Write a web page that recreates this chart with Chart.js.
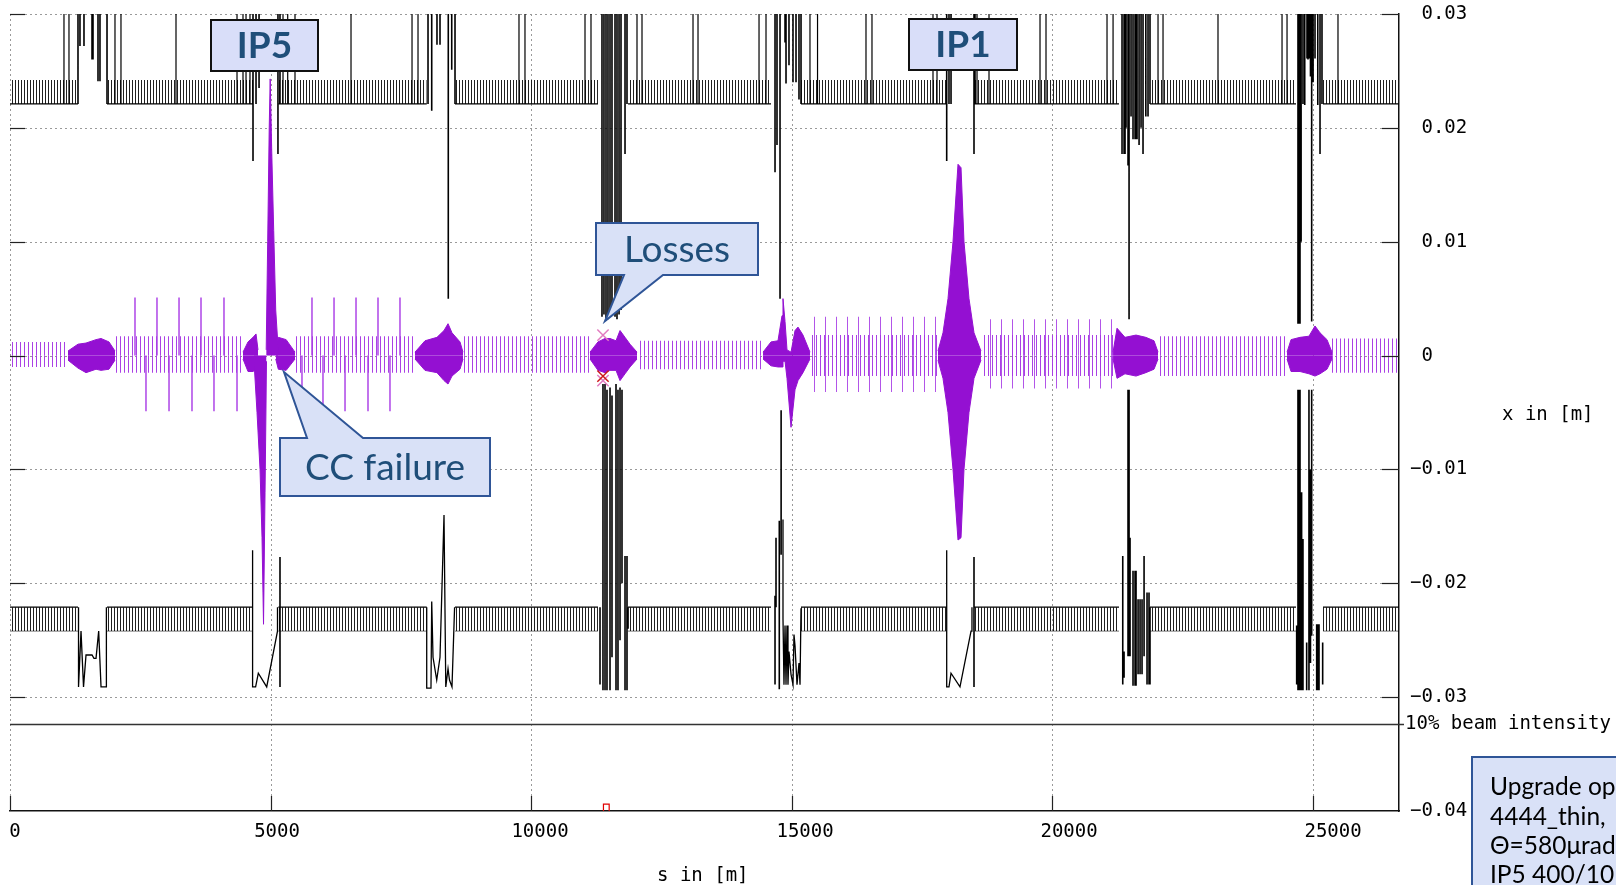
<!DOCTYPE html>
<html>
<head>
<meta charset="utf-8">
<script src="https://cdn.jsdelivr.net/npm/chart.js@4.4.1/dist/chart.umd.min.js"></script>
<style>
html,body{margin:0;padding:0;background:#fff;overflow:hidden}
#wrap{position:relative;width:1616px;height:885px}
canvas{display:block}
</style>
</head>
<body>
<div id="wrap"><canvas id="c" width="1616" height="885"></canvas></div>
<script>
// ---------------- axes ----------------
const xTickValues = [0, 5000, 10000, 15000, 20000, 25000];
const yTickValues = [0.03, 0.02, 0.01, 0, -0.01, -0.02, -0.03, -0.04];
const sMax = 26659;
const yMin = -0.04, yMax = 0.03;
const beamIntensityLevel = -0.0324;

// ---------------- aperture (black) ----------------
const arcStart = [0, 1862, 5150, 8541, 11862, 15182, 18502, 21880, 25200];
const arcEnd   = [1305, 4664, 7998, 11285, 14606, 17978, 21285, 24682, 26659];
const screenInner = 0.0221;
const screenOuter = 0.0242;

const tallApertureS = [1036, 1132, 2015, 2130, 3186, 4357, 4472, 4530, 4606, 5240, 5330, 5470, 6545, 7716, 7831,
  9769, 9884, 11036, 11151, 12034, 12130, 13109, 13205, 14376, 14510, 15354, 15499, 16429, 16544, 17715, 17792,
  18560, 18790, 19769, 19884, 21055, 21171, 22034, 22130, 23185, 24414, 24510, 25488];
const tallApertureTop = 0.031;

const irTopSegments = [
  [1305,0.0221,0.031],[1343,0.0272,0.031],[1420,0.0272,0.031],[1574,0.026,0.031],[1593,0.026,0.031],[1689,0.0241,0.031],[1727,0.0241,0.031],[1862,0.0221,0.031],
  [4664,0.0171,0.031],[4722,0.0221,0.031],[4780,0.0235,0.031],[5143,0.0177,0.031],[5182,0.0221,0.031],
  [8023,0.0221,0.031],[8094,0.0215,0.031],[8195,0.0273,0.031],[8253,0.0273,0.031],[8412,0.005,0.031],[8478,0.0251,0.031],[8541,0.0221,0.031],
  [11362,0.0034,0.031],[11400,0.0036,0.031],[11439,0.0033,0.031],[11477,0.0032,0.031],[11516,0.0035,0.031],[11554,0.0038,0.031],[11612,0.0034,0.031],[11650,0.0032,0.031],[11689,0.0036,0.031],[11727,0.0040,0.031],[11804,0.0177,0.031],[11842,0.0221,0.031],
  [14683,0.0161,0.031],[14721,0.0185,0.031],[14779,0.005,0.031],[14875,0.0275,0.031],[14894,0.0239,0.031],[14951,0.0255,0.031],[15028,0.024,0.031],[15086,0.024,0.031],[15143,0.0225,0.031],[15182,0.0221,0.031],
  [17978,0.0171,0.031],[18022,0.0221,0.031],[18061,0.0221,0.031],[18502,0.0177,0.031],[18521,0.0221,0.031],
  [21343,0.0177,0.031],[21382,0.0177,0.031],[21401,0.0177,0.031],[21420,0.0200,0.031],[21458,0.0167,0.031],[21478,0.0032,0.031],[21516,0.0210,0.031],[21554,0.019,0.031],[21593,0.019,0.031],[21612,0.019,0.031],[21631,0.019,0.031],[21670,0.0185,0.031],[21708,0.0200,0.031],[21746,0.0177,0.031],[21800,0.0210,0.031],[21842,0.021,0.031],[21880,0.0221,0.031],
  [24720,0.0028,0.031],[24740,0.0028,0.031],[24759,0.0028,0.031],[24780,0.0100,0.031],[24816,0.0221,0.031],[24850,0.0220,0.031],[24893,0.0261,0.031],[24912,0.0260,0.031],[24931,0.0261,0.031],[24960,0.0245,0.031],[24983,0.003,0.031],[25010,0.0240,0.031],[25047,0.0261,0.031],[25100,0.0220,0.031],[25143,0.0177,0.031],[25181,0.0221,0.031]
];
const irBottomSegments = [
  [5182,-0.0291,-0.0177],
  [11324,-0.0289,-0.0221],[11381,-0.0294,-0.0025],[11420,-0.0294,-0.0025],[11458,-0.0294,-0.0030],[11516,-0.0294,-0.0028],[11554,-0.0265,-0.0035],[11631,-0.0294,-0.0025],[11669,-0.0294,-0.0030],[11708,-0.0250,-0.0028],[11746,-0.0200,-0.0030],[11804,-0.0294,-0.0176],[11842,-0.0294,-0.0176],[11862,-0.0240,-0.0221],
  [14683,-0.0289,-0.0211],[14702,-0.0221,-0.016],[14765,-0.0293,-0.0145],[14800,-0.0175,-0.0048],
  [18502,-0.0291,-0.0177],
  [21357,-0.0289,-0.0176],[21382,-0.0283,-0.026],[21458,-0.0264,-0.003],[21478,-0.0264,-0.003],[21497,-0.0264,-0.016],[21554,-0.029,-0.0189],[21593,-0.029,-0.0189],[21612,-0.029,-0.0189],[21651,-0.028,-0.0214],[21689,-0.028,-0.0214],[21727,-0.028,-0.0214],[21766,-0.0264,-0.0176],[21823,-0.0289,-0.0208],[21861,-0.0289,-0.0208],[21880,-0.0289,-0.0221],
  [24695,-0.0289,-0.0237],[24720,-0.0294,-0.003],[24740,-0.0294,-0.003],[24759,-0.0294,-0.003],[24790,-0.0294,-0.0120],[24816,-0.0294,-0.0161],[24887,-0.0294,-0.0252],[24931,-0.0294,-0.003],[24960,-0.0270,-0.0100],[24983,-0.0246,-0.003],[25079,-0.0294,-0.0236],[25100,-0.0294,-0.0236],[25124,-0.0294,-0.0236],[25194,-0.0289,-0.0252]
];
const ir4BottomProfile = [[1315,-0.0221],[1315,-0.0291],[1363,-0.0242],[1411,-0.0291],[1459,-0.0263],[1574,-0.0263],[1612,-0.0266],[1651,-0.0266],[1702,-0.0242],[1747,-0.0291],[1850,-0.0291],[1850,-0.0221]];
const ir5BottomProfile = [[4656,-0.0171],[4656,-0.0291],[4714,-0.0291],[4766,-0.0279],[4927,-0.0291],[5134,-0.0242],[5134,-0.0221]];
const ir6BottomProfile = [[7998,-0.0221],[7998,-0.0292],[8080,-0.0292],[8094,-0.0216],[8119,-0.0265],[8190,-0.0285],[8253,-0.0265],[8330,-0.0140],[8364,-0.0291],[8407,-0.0275],[8435,-0.0285],[8483,-0.0291],[8533,-0.0221]];
const ir8BottomProfile = [[14836,-0.0144],[14836,-0.0231],[14855,-0.0289],[14875,-0.0237],[14894,-0.0289],[14913,-0.0237],[14932,-0.0289],[14951,-0.026],[14990,-0.028],[15028,-0.0289],[15047,-0.0245],[15067,-0.0255],[15105,-0.0289],[15143,-0.027],[15163,-0.0289],[15182,-0.0222]];
const ir1BottomProfile = [[17978,-0.0171],[17978,-0.0291],[18022,-0.0291],[18061,-0.0279],[18233,-0.0291],[18445,-0.0242],[18463,-0.0221]];

// ---------------- tracking (purple) ----------------
const tickStart = [0, 2015, 5470, 8694, 12034, 15354, 18675, 22034, 25373];
const tickEnd   = [1113, 4472, 7773, 11132, 14453, 17811, 21171, 24510, 26659];
const tickUp    = [0.0012, 0.0017, 0.0017, 0.0017, 0.0013, 0.0018, 0.0018, 0.0017, 0.0015];
const tickDown  = [-0.0010, -0.0015, -0.0015, -0.0015, -0.0012, -0.0018, -0.0018, -0.0018, -0.0015];
const wideTickStart = [15354, 18675];
const wideTickEnd   = [17811, 21171];
const wideTickUp    = [0.0034, 0.0032];
const wideTickDown  = [-0.0032, -0.0029];

const spikeUpS   = [2399, 2821, 3244, 3666, 4107, 5796, 6219, 6641, 7063, 7485];
const spikeUpY   = [0.0051, 0.0051, 0.0051, 0.0051, 0.0051, 0.0051, 0.0051, 0.0051, 0.0051, 0.0051];
const spikeDownS = [2610, 3052, 3493, 3915, 4357, 5604, 6007, 6430, 6871, 7293];
const spikeDownY = [-0.0049, -0.0049, -0.0049, -0.0049, -0.0049, -0.0049, -0.0049, -0.0049, -0.0049, -0.0049];

const ir4BlobS = [1113,1305,1459,1651,1747,1900,2015];
const ir4BlobUp = [0.0004,0.0010,0.0011,0.0014,0.0015,0.0012,0.0004];
const ir4BlobDown = [-0.0004,-0.0011,-0.0015,-0.0012,-0.0013,-0.0012,-0.0004];
const ip5LeftBlobS = [4472,4568,4664,4722,4760];
const ip5LeftBlobUp = [0.0003,0.0012,0.0016,0.0019,0.0005];
const ip5LeftBlobDown = [-0.0003,-0.0014,-0.0014,-0.0012,-0.0005];
const ip5SpikeUpS = [4917,4946,4975,4994,5023,5061,5100,5148];
const ip5SpikeUpY = [0.0005,0.010,0.020,0.0243,0.018,0.011,0.004,0.0005];
const ip5SpikeDownS = [4683,4741,4799,4837,4866,4895,4923];
const ip5SpikeDownY = [-0.0005,-0.005,-0.010,-0.016,-0.0236,-0.012,-0.0005];
const ip5RightBlobS = [5100,5150,5300,5470];
const ip5RightBlobUp = [0.0003,0.0016,0.0014,0.0003];
const ip5RightBlobDown = [-0.0003,-0.0012,-0.0013,-0.0003];
const ir6BlobS = [7773,7965,8195,8330,8407,8483,8637,8694];
const ir6BlobUp = [0.0003,0.0013,0.0016,0.0022,0.0028,0.0020,0.0012,0.0003];
const ir6BlobDown = [-0.0003,-0.0013,-0.0015,-0.0022,-0.0025,-0.0018,-0.0012,-0.0003];
const ir7BlobS = [11132,11285,11420,11516,11631,11708,11804,11900,12034];
const ir7BlobUp = [0.0003,0.0012,0.0015,0.0015,0.0013,0.0022,0.0016,0.0010,0.0003];
const ir7BlobDown = [-0.0003,-0.0013,-0.0015,-0.0013,-0.0013,-0.0022,-0.0016,-0.0010,-0.0003];
const ir8BlobS = [14453,14606,14740,14817,14836,14875,14913,14990,15067,15124,15220,15354];
const ir8BlobUp = [0.0003,0.0012,0.0013,0.0035,0.0050,0.0030,0.0005,0.0003,0.0022,0.0025,0.0018,0.0003];
const ir8BlobDown = [-0.0003,-0.0009,-0.0010,-0.0010,-0.0005,-0.0005,-0.0020,-0.0063,-0.0030,-0.0022,-0.0015,-0.0003];
const ir1SpindleS = [17811,17907,18003,18099,18195,18253,18310,18406,18502,18636];
const ir1SpindleUp = [0.0004,0.002,0.005,0.010,0.0168,0.0165,0.010,0.005,0.002,0.0004];
const ir1SpindleDown = [-0.0004,-0.002,-0.005,-0.010,-0.0162,-0.016,-0.010,-0.005,-0.002,-0.0004];
const ir2BlobS = [21171,21247,21400,21612,21800,21957,22034];
const ir2BlobUp = [0.0003,0.0024,0.0016,0.0018,0.0016,0.0013,0.0003];
const ir2BlobDown = [-0.0003,-0.002,-0.0016,-0.0018,-0.0015,-0.0012,-0.0003];
const ir3BlobS = [24510,24587,24759,24931,25047,25143,25277,25373];
const ir3BlobUp = [0.0003,0.0014,0.0016,0.0017,0.0026,0.0020,0.0014,0.0003];
const ir3BlobDown = [-0.0003,-0.0014,-0.0014,-0.0016,-0.0018,-0.0016,-0.0012,-0.0003];

// ---------------- losses ----------------
const lossMarkS = [11381, 11381, 11381];
const lossMarkY = [0.0018, -0.0022, -0.0018];
const lossBinStart = [11390];
const lossBinEnd = [11500];
const lossBinHeight = [0.0006];

// ---------------- texts ----------------
const yAxisTitle = 'x in [m]';
const xAxisTitle = 's in [m]';
const intensityLabel = '10% beam intensity';
const infoLines = ['Upgrade optics', '4444_thin,', 'Θ=580μrad', 'IP5 400/10'];

// ================= styles / layout (not data) =================
const MONO = '"DejaVu Sans Mono", monospace';
const MONO_SIZE = 19;
const SANS = 'Lato, "Open Sans", sans-serif';
const PURPLE = '#9410d2';
const PURPLE_LIGHT = 'rgba(170,60,230,0.95)';
const LAYOUT = {
  ip5:   {x: 211, y: 20, w: 107, h: 51, cx: 264.5, cy: 46},
  ip1:   {x: 909, y: 19, w: 108, h: 51, cx: 963, cy: 45},
  losses:{x: 596, y: 223, w: 162, h: 52, side: 'bottom', base: [624, 663], tip: [605, 321], cx: 677, cy: 250},
  cc:    {x: 280, y: 438, w: 210, h: 58, side: 'top', base: [307, 363], tip: [284, 372], cx: 385, cy: 468},
  info:  {x: 1472, y: 757, w: 220, h: 200, tx: 1490, ty: [787, 817, 846, 875]},
  xLabelShift: [5, 6.5, 9, 13.5, 17, 20.5],
  xLabelY: 832
};

const ctx0 = document.getElementById('c').getContext('2d');
function stripePattern(period, color, width) {
  const c = document.createElement('canvas');
  c.width = period; c.height = 4;
  const g = c.getContext('2d');
  g.fillStyle = color; g.fillRect(0, 0, width, 4);
  return ctx0.createPattern(c, 'repeat');
}
const combPattern = stripePattern(3, 'rgba(20,20,20,0.95)', 1);
const tickPattern = stripePattern(4, 'rgba(165,55,228,0.95)', 1);
const widePattern = stripePattern(11, 'rgba(165,55,228,0.85)', 1);

// ---------- builders ----------
function bandPts(starts, ends, levels) {
  const p = [];
  starts.forEach((s, i) => { p.push({x: s, y: levels[i]}, {x: ends[i], y: levels[i]}, {x: ends[i], y: null}); });
  return p;
}
function segPts(segs) {
  const sorted = segs.slice().sort((a, b) => a[0] - b[0]);
  const p = [];
  sorted.forEach(([s, a, b]) => { p.push({x: s, y: a}, {x: s, y: b}, {x: s, y: null}); });
  return p;
}
function polyPts(lines) {
  const p = [];
  lines.forEach(l => { l.forEach(([s, y]) => p.push({x: s, y})); p.push({x: l[l.length - 1][0], y: null}); });
  return p;
}
function xy(S, Y) { return S.map((s, i) => ({x: s, y: Y[i]})); }
function lineDS(data, color, width, extra) {
  return Object.assign({type: 'line', data, borderColor: color, borderWidth: width, pointRadius: 0,
    fill: false, spanGaps: false, tension: 0}, extra || {});
}
function fillDS(data, bg, target) {
  return lineDS(data, 'rgba(0,0,0,0)', 0, {fill: {value: target}, backgroundColor: bg});
}

const layers = []; // bottom -> top
layers.push(fillDS(bandPts(arcStart, arcEnd, arcStart.map(() => screenOuter)), combPattern, screenInner));
layers.push(fillDS(bandPts(arcStart, arcEnd, arcStart.map(() => -screenOuter)), combPattern, -screenInner));
layers.push(lineDS(bandPts(arcStart, arcEnd, arcStart.map(() => screenInner)), '#000', 1.3));
layers.push(lineDS(bandPts(arcStart, arcEnd, arcStart.map(() => -screenInner)), '#000', 1.3));
layers.push(lineDS(bandPts(arcStart, arcEnd, arcStart.map(() => -screenOuter)), 'rgba(0,0,0,0.55)', 1));
layers.push(lineDS(segPts(tallApertureS.map(s => [s, screenInner, tallApertureTop])), '#000', 1.2));
layers.push(lineDS(segPts(irTopSegments), '#000', 1.6));
layers.push(lineDS(segPts(irBottomSegments), '#000', 1.6));
layers.push(lineDS(polyPts([ir4BottomProfile, ir5BottomProfile, ir6BottomProfile, ir8BottomProfile, ir1BottomProfile]), '#000', 1.3));
layers.push(fillDS(bandPts(wideTickStart, wideTickEnd, wideTickUp), widePattern, 0));
layers.push(fillDS(bandPts(wideTickStart, wideTickEnd, wideTickDown), widePattern, 0));
layers.push(fillDS(bandPts(tickStart, tickEnd, tickUp), tickPattern, 0));
layers.push(fillDS(bandPts(tickStart, tickEnd, tickDown), tickPattern, 0));
layers.push(lineDS(segPts(spikeUpS.map((s, i) => [s, 0, spikeUpY[i]])), PURPLE_LIGHT, 1.5));
layers.push(lineDS(segPts(spikeDownS.map((s, i) => [s, spikeDownY[i], 0])), PURPLE_LIGHT, 1.5));
[[ir4BlobS, ir4BlobUp, ir4BlobDown], [ip5LeftBlobS, ip5LeftBlobUp, ip5LeftBlobDown], [ip5RightBlobS, ip5RightBlobUp, ip5RightBlobDown],
 [ir6BlobS, ir6BlobUp, ir6BlobDown], [ir7BlobS, ir7BlobUp, ir7BlobDown], [ir8BlobS, ir8BlobUp, ir8BlobDown],
 [ir1SpindleS, ir1SpindleUp, ir1SpindleDown], [ir2BlobS, ir2BlobUp, ir2BlobDown], [ir3BlobS, ir3BlobUp, ir3BlobDown]]
 .forEach(([S, U, D]) => {
   layers.push(lineDS(xy(S, U), PURPLE, 1, {fill: {value: 0}, backgroundColor: PURPLE}));
   layers.push(lineDS(xy(S, D), PURPLE, 1, {fill: {value: 0}, backgroundColor: PURPLE}));
 });
layers.push(lineDS(xy(ip5SpikeUpS, ip5SpikeUpY), PURPLE, 1, {fill: {value: 0}, backgroundColor: PURPLE}));
layers.push(lineDS(xy(ip5SpikeDownS, ip5SpikeDownY), PURPLE, 1, {fill: {value: 0}, backgroundColor: PURPLE}));
layers.push(lineDS(polyPts(lossBinStart.map((s, i) => [[s, yMin], [s, yMin + lossBinHeight[i]], [lossBinEnd[i], yMin + lossBinHeight[i]], [lossBinEnd[i], yMin]])), '#e00000', 1.2));
layers.push({type: 'scatter', data: xy(lossMarkS, lossMarkY), showLine: false, pointStyle: 'crossRot', pointRadius: 8,
  pointBorderWidth: 1.5, pointBorderColor: ['#e27cc0', '#e27cc0', '#cc1a1a'], pointBackgroundColor: 'rgba(0,0,0,0)'});
layers.forEach((d, i) => { d.order = layers.length - i; });

function callout(ctx, c, fill, stroke, lw) {
  ctx.beginPath();
  ctx.moveTo(c.x, c.y);
  if (c.side === 'top') { ctx.lineTo(c.base[0], c.y); ctx.lineTo(c.tip[0], c.tip[1]); ctx.lineTo(c.base[1], c.y); }
  ctx.lineTo(c.x + c.w, c.y);
  ctx.lineTo(c.x + c.w, c.y + c.h);
  if (c.side === 'bottom') { ctx.lineTo(c.base[1], c.y + c.h); ctx.lineTo(c.tip[0], c.tip[1]); ctx.lineTo(c.base[0], c.y + c.h); }
  ctx.lineTo(c.x, c.y + c.h);
  ctx.closePath();
  ctx.fillStyle = fill; ctx.fill();
  ctx.lineWidth = lw; ctx.strokeStyle = stroke; ctx.stroke();
}
const framePlugin = {
  id: 'frame',
  beforeDatasetsDraw(chart) {
    const {ctx, chartArea: a, scales: {x, y}} = chart;
    ctx.save();
    ctx.strokeStyle = '#9a9a9a'; ctx.lineWidth = 1; ctx.setLineDash([2, 3]);
    yTickValues.forEach(v => {
      if (v <= yMin) return;
      const py = Math.round(y.getPixelForValue(v)) + 0.5;
      ctx.beginPath(); ctx.moveTo(a.left, py); ctx.lineTo(a.right, py); ctx.stroke();
    });
    xTickValues.forEach(v => {
      const px = Math.round(x.getPixelForValue(v)) + 0.5;
      ctx.beginPath(); ctx.moveTo(px, a.top); ctx.lineTo(px, a.bottom); ctx.stroke();
    });
    ctx.restore();
  },
  afterDatasetsDraw(chart) {
    const {ctx, chartArea: a, scales: {x, y}} = chart;
    ctx.save();
    ctx.strokeStyle = '#222'; ctx.lineWidth = 1.2;
    yTickValues.forEach(v => {
      if (v <= yMin) return;
      const py = Math.round(y.getPixelForValue(v)) + 0.5;
      ctx.beginPath(); ctx.moveTo(a.left, py); ctx.lineTo(a.left + 15, py); ctx.stroke();
      ctx.beginPath(); ctx.moveTo(a.right - 17, py); ctx.lineTo(a.right, py); ctx.stroke();
    });
    xTickValues.forEach(v => {
      const px = Math.round(x.getPixelForValue(v)) + 0.5;
      ctx.beginPath(); ctx.moveTo(px, a.bottom); ctx.lineTo(px, a.bottom - 15); ctx.stroke();
    });
    const py = Math.round(y.getPixelForValue(beamIntensityLevel)) + 0.5;
    ctx.strokeStyle = '#333'; ctx.lineWidth = 1.5;
    ctx.beginPath(); ctx.moveTo(a.left, py); ctx.lineTo(a.right + 5, py); ctx.stroke();
    ctx.fillStyle = '#000'; ctx.font = MONO_SIZE + 'px ' + MONO; ctx.textBaseline = 'middle'; ctx.textAlign = 'left';
    ctx.fillText(intensityLabel, a.right + 6, py);
    ctx.fillText(yAxisTitle, 1502, 415);
    ctx.fillText(xAxisTitle, 657, 876);
    ctx.textAlign = 'center';
    xTickValues.forEach((v, i) => {
      ctx.fillText(String(v), x.getPixelForValue(v) + LAYOUT.xLabelShift[i], LAYOUT.xLabelY);
    });
    ctx.restore();
  },
  afterDraw(chart) {
    const ctx = chart.ctx;
    ctx.save();
    [['IP5', LAYOUT.ip5], ['IP1', LAYOUT.ip1]].forEach(([t, b]) => {
      callout(ctx, b, '#d9def9', '#111', 2);
      ctx.fillStyle = '#1f4e79'; ctx.font = 'bold 37px ' + SANS;
      ctx.textAlign = 'center'; ctx.textBaseline = 'middle';
      ctx.fillText(t, b.cx, b.cy);
    });
    [['Losses', LAYOUT.losses], ['CC failure', LAYOUT.cc]].forEach(([t, b]) => {
      callout(ctx, b, '#d9e1f7', '#2f5597', 2);
      ctx.fillStyle = '#1f4e79'; ctx.font = '37px ' + SANS;
      ctx.textAlign = 'center'; ctx.textBaseline = 'middle';
      ctx.fillText(t, b.cx, b.cy);
    });
    const ib = LAYOUT.info;
    callout(ctx, ib, '#d9e1f7', '#2f5597', 2);
    ctx.fillStyle = '#000'; ctx.font = '24.5px ' + SANS; ctx.textAlign = 'left'; ctx.textBaseline = 'middle';
    infoLines.forEach((l, i) => ctx.fillText(l, ib.tx, ib.ty[i]));
    ctx.restore();
  }
};

Chart.defaults.font.family = MONO;
new Chart(document.getElementById('c'), {
  type: 'line',
  data: {datasets: layers},
  options: {
    responsive: false, animation: false, devicePixelRatio: 1,
    layout: {padding: {top: 14, left: 10, right: 0, bottom: 0}},
    plugins: {legend: {display: false}, tooltip: {enabled: false}},
    scales: {
      x: {
        type: 'linear', position: 'bottom', min: 0, max: sMax,
        afterBuildTicks: s => { s.ticks = xTickValues.map(v => ({value: v})); },
        afterFit: s => { s.height = 74; s.paddingLeft = 0; s.paddingRight = 0; },
        grid: {display: false, drawTicks: false},
        border: {display: true, color: '#111', width: 1.5},
        ticks: {display: false, autoSkip: false, maxRotation: 0}
      },
      y: {
        type: 'linear', position: 'right', min: yMin, max: yMax,
        afterBuildTicks: s => { s.ticks = yTickValues.map(v => ({value: v})); },
        afterFit: s => { s.width = 217; s.paddingTop = 0; s.paddingBottom = 0; },
        grid: {display: false, drawTicks: false},
        border: {display: true, color: '#111', width: 1.5},
        ticks: {padding: 11, color: '#000', font: {size: MONO_SIZE, family: MONO},
          callback: v => v === 0 ? ' 0' : (v < 0 ? '\u2212' + Math.abs(v).toFixed(2) : ' ' + v.toFixed(2))}
      }
    }
  },
  plugins: [framePlugin]
});
</script>
</body>
</html>
